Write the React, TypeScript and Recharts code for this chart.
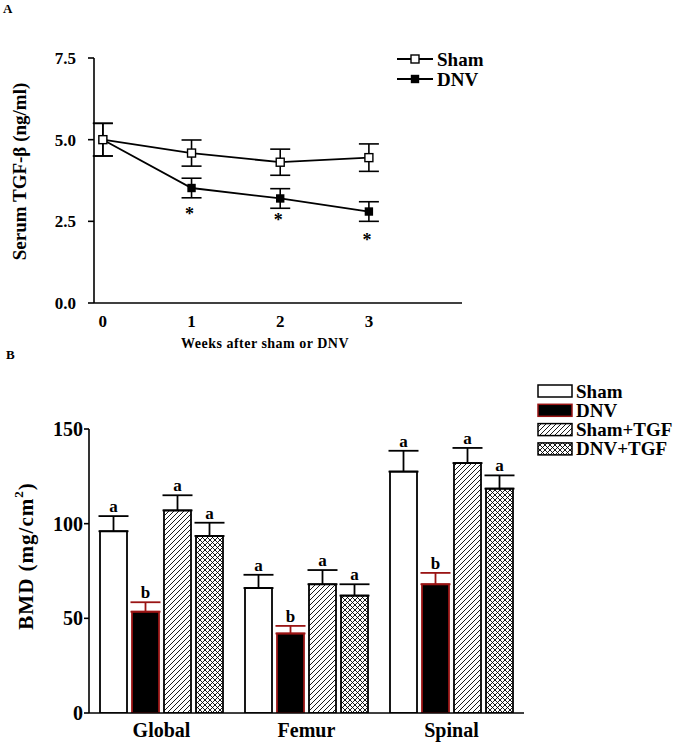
import { LineChart, Line, XAxis, YAxis, ErrorBar, BarChart, Bar } from 'recharts';

const FONT = '"Liberation Serif", "Times New Roman", serif';

// Panel A: serum TGF-beta over time
const weeks = [0, 1, 2, 3];
const shamLevel = [5.0, 4.59, 4.31, 4.45];
const shamLevelErr = [0.5, 0.4, 0.4, 0.42];
const dnvLevel = [5.0, 3.52, 3.2, 2.8];
const dnvLevelErr = [0.5, 0.3, 0.3, 0.3];
const starPos = [null, 2.8, 2.6, 2.0];
const levelTicks = [0, 2.5, 5, 7.5];

// Panel B: BMD by region
const regions = ['Global', 'Femur', 'Spinal'];
const bmdSham = [96, 66, 127.5];
const bmdShamErr = [8, 7, 11];
const bmdDnv = [53.5, 42, 68];
const bmdDnvErr = [5, 4, 6];
const bmdShamTgf = [107, 68, 132];
const bmdShamTgfErr = [8, 7.5, 8];
const bmdDnvTgf = [93.5, 62, 118.5];
const bmdDnvTgfErr = [7, 6, 7];
const shamLetters = ['a', 'a', 'a'];
const dnvLetters = ['b', 'b', 'b'];
const shamTgfLetters = ['a', 'a', 'a'];
const dnvTgfLetters = ['a', 'a', 'a'];
const bmdTicks = [0, 50, 100, 150];

const timeData = weeks.map((w, i) => ({
  week: w,
  sham: shamLevel[i],
  shamErr: shamLevelErr[i],
  dnv: dnvLevel[i],
  dnvErr: dnvLevelErr[i],
  star: starPos[i],
}));

const bmdData = regions.map((r, i) => ({
  region: r,
  sham: bmdSham[i],
  shamErr: [0, bmdShamErr[i]],
  shamL: shamLetters[i],
  dnv: bmdDnv[i],
  dnvErr: [0, bmdDnvErr[i]],
  dnvL: dnvLetters[i],
  shamTgf: bmdShamTgf[i],
  shamTgfErr: [0, bmdShamTgfErr[i]],
  shamTgfL: shamTgfLetters[i],
  dnvTgf: bmdDnvTgf[i],
  dnvTgfErr: [0, bmdDnvTgfErr[i]],
  dnvTgfL: dnvTgfLetters[i],
}));

const RED = '#9a1414';

const squareDot = (filled: boolean, size: number) => (props: any) => {
  const { cx, cy, index } = props;
  if (cx == null || cy == null) return <g key={index} />;
  return (
    <rect
      key={index}
      x={cx - size / 2}
      y={cy - size / 2}
      width={size}
      height={size}
      fill={filled ? '#000' : '#fff'}
      stroke="#000"
      strokeWidth={1.4}
    />
  );
};

const starDot = (props: any) => {
  const { cx, cy, index, value } = props;
  if (cx == null || cy == null || value == null) return <g key={index} />;
  return (
    <text key={index} x={cx - 2} y={cy + 8} textAnchor="middle" fontSize={18} fontWeight={700} fontFamily={FONT} fill="#000">
      *
    </text>
  );
};

const titleA = (props: any) => {
  const vb = props.viewBox;
  const cx = vb.x + 5;
  const cy = vb.y + vb.height / 2 - 9;
  return (
    <text x={cx} y={cy} transform={`rotate(-90 ${cx} ${cy})`} textAnchor="middle" dominantBaseline="central"
      fontSize={19} fontWeight={700} fontFamily={FONT} fill="#000">
      Serum TGF-β (ng/ml)
    </text>
  );
};

const titleB = (props: any) => {
  const vb = props.viewBox;
  const cx = vb.x + 17;
  const cy = vb.y + vb.height / 2 - 15;
  return (
    <text x={cx} y={cy} transform={`rotate(-90 ${cx} ${cy})`} textAnchor="middle" dominantBaseline="central"
      fontSize={21} fontWeight={700} fontFamily={FONT} fill="#000" letterSpacing={1}>
      BMD (mg/cm<tspan dy={-8} fontSize={13}>2</tspan><tspan dy={8}>)</tspan>
    </text>
  );
};

const barShape = (fill: string, stroke: string, valKey: string, errKey: string, letterKey: string) => (p: any) => {
  const { x, y, width, height, payload } = p;
  const perUnit = height / payload[valKey];
  const top = y - payload[errKey][1] * perUnit;
  return (
    <g>
      <rect x={x} y={y} width={width} height={height} fill={fill} stroke={stroke} strokeWidth={1.8} />
      <text x={x + width / 2} y={top - 4} textAnchor="middle" fontSize={17} fontWeight={700} fontFamily={FONT} fill="#000">
        {payload[letterKey]}
      </text>
    </g>
  );
};

const tickStyle = (size: number) => ({ fill: '#000', fontSize: size, fontWeight: 700, fontFamily: FONT });
const axisStyle = { stroke: '#000', strokeWidth: 1.6 };

const Patterns = ({ prefix }: { prefix: string }) => (
  <defs>
    <pattern id={`${prefix}hatch`} patternUnits="userSpaceOnUse" width="5" height="5">
      <rect width="5" height="5" fill="#fff" />
      <path d="M-1,1 l2,-2 M0,5 l5,-5 M4,6 l2,-2" stroke="#000" strokeWidth="0.9" />
    </pattern>
    <pattern id={`${prefix}cross`} patternUnits="userSpaceOnUse" width="5" height="5">
      <rect width="5" height="5" fill="#fff" />
      <path d="M0,0 l5,5 M5,0 l-5,5" stroke="#000" strokeWidth="0.9" />
    </pattern>
  </defs>
);

export default function App() {
  const legendB = [
    { name: 'Sham', fill: '#fff', stroke: '#000' },
    { name: 'DNV', fill: '#000', stroke: RED },
    { name: 'Sham+TGF', fill: 'url(#lghatch)', stroke: '#000' },
    { name: 'DNV+TGF', fill: 'url(#lgcross)', stroke: '#000' },
  ];
  return (
    <div style={{ position: 'absolute', left: 0, top: 0, width: 685, height: 744, background: '#fff', fontFamily: FONT, color: '#000' }}>
      <div style={{ position: 'absolute', left: 3, top: 1, fontWeight: 700, fontSize: 13 }}>A</div>
      <div style={{ position: 'absolute', left: 0, top: 0 }}>
        <LineChart width={685} height={340} data={timeData} margin={{ top: 58, right: 223, bottom: 7, left: 14 }}>
          <XAxis type="number" dataKey="week" domain={[-0.1, 4.05]} ticks={weeks} allowDataOverflow
            tickLine={false} axisLine={axisStyle} height={30} tickMargin={6} tick={tickStyle(17)} />
          <YAxis type="number" domain={[0, 7.5]} ticks={levelTicks} allowDataOverflow width={80}
            tickSize={6} tickMargin={12} tickLine={axisStyle} axisLine={axisStyle} tick={tickStyle(17)}
            tickFormatter={(v: number) => v.toFixed(1)} label={{ content: titleA }} />
          <Line dataKey="dnv" stroke="#000" strokeWidth={1.8} dot={squareDot(true, 7)} activeDot={false} isAnimationActive={false}>
            <ErrorBar dataKey="dnvErr" width={10} stroke="#000" strokeWidth={1.6} direction="y" />
          </Line>
          <Line dataKey="sham" stroke="#000" strokeWidth={1.8} dot={squareDot(false, 8)} activeDot={false} isAnimationActive={false}>
            <ErrorBar dataKey="shamErr" width={10} stroke="#000" strokeWidth={1.6} direction="y" />
          </Line>
          <Line dataKey="star" stroke="none" dot={starDot} activeDot={false} isAnimationActive={false} />
        </LineChart>
      </div>
      <svg style={{ position: 'absolute', left: 395, top: 48 }} width={110} height={44}>
        <line x1={2} y1={11} x2={38} y2={11} stroke="#000" strokeWidth={1.8} />
        <rect x={16} y={7} width={8} height={8} fill="#fff" stroke="#000" strokeWidth={1.4} />
        <text x={42} y={11} dominantBaseline="central" fontSize={19} fontWeight={700} fontFamily={FONT}>Sham</text>
        <line x1={2} y1={31} x2={38} y2={31} stroke="#000" strokeWidth={1.8} />
        <rect x={16.5} y={27.5} width={7} height={7} fill="#000" stroke="#000" strokeWidth={1.4} />
        <text x={42} y={31} dominantBaseline="central" fontSize={19} fontWeight={700} fontFamily={FONT}>DNV</text>
      </svg>
      <div style={{ position: 'absolute', left: 181, top: 336, fontWeight: 700, fontSize: 14, letterSpacing: 0.5, whiteSpace: 'nowrap' }}>
        Weeks after sham or DNV
      </div>
      <div style={{ position: 'absolute', left: 6, top: 347, fontWeight: 700, fontSize: 13 }}>B</div>
      <div style={{ position: 'absolute', left: 0, top: 360 }}>
        <BarChart width={685} height={384} data={bmdData} margin={{ top: 69, right: 161, bottom: 0, left: 9 }}
          barSize={27} barGap={5}>
          <Patterns prefix="b" />
          <XAxis dataKey="region" tickLine={false} axisLine={axisStyle} height={31} tick={tickStyle(20)} tickMargin={4} />
          <YAxis type="number" domain={[0, 150]} ticks={bmdTicks} allowDataOverflow width={80}
            tickSize={5} tickMargin={1} tickLine={axisStyle} axisLine={axisStyle} tick={tickStyle(20)}
            label={{ content: titleB }} />
          <Bar dataKey="sham" isAnimationActive={false} shape={barShape('#fff', '#000', 'sham', 'shamErr', 'shamL')}>
            <ErrorBar dataKey="shamErr" width={15} stroke="#000" strokeWidth={1.8} direction="y" />
          </Bar>
          <Bar dataKey="dnv" isAnimationActive={false} shape={barShape('#000', RED, 'dnv', 'dnvErr', 'dnvL')}>
            <ErrorBar dataKey="dnvErr" width={15} stroke={RED} strokeWidth={1.8} direction="y" />
          </Bar>
          <Bar dataKey="shamTgf" isAnimationActive={false} shape={barShape('url(#bhatch)', '#000', 'shamTgf', 'shamTgfErr', 'shamTgfL')}>
            <ErrorBar dataKey="shamTgfErr" width={15} stroke="#000" strokeWidth={1.8} direction="y" />
          </Bar>
          <Bar dataKey="dnvTgf" isAnimationActive={false} shape={barShape('url(#bcross)', '#000', 'dnvTgf', 'dnvTgfErr', 'dnvTgfL')}>
            <ErrorBar dataKey="dnvTgfErr" width={15} stroke="#000" strokeWidth={1.8} direction="y" />
          </Bar>
        </BarChart>
      </div>
      <svg style={{ position: 'absolute', left: 535, top: 380 }} width={150} height={82}>
        <Patterns prefix="lg" />
        {legendB.map((e, i) => (
          <g key={e.name}>
            <rect x={3} y={5 + i * 19.3} width={34} height={12} fill={e.fill} stroke={e.stroke} strokeWidth={1.5} />
            <text x={41} y={11 + i * 19.3} dominantBaseline="central" fontSize={19} fontWeight={700} fontFamily={FONT}>{e.name}</text>
          </g>
        ))}
      </svg>
    </div>
  );
}
